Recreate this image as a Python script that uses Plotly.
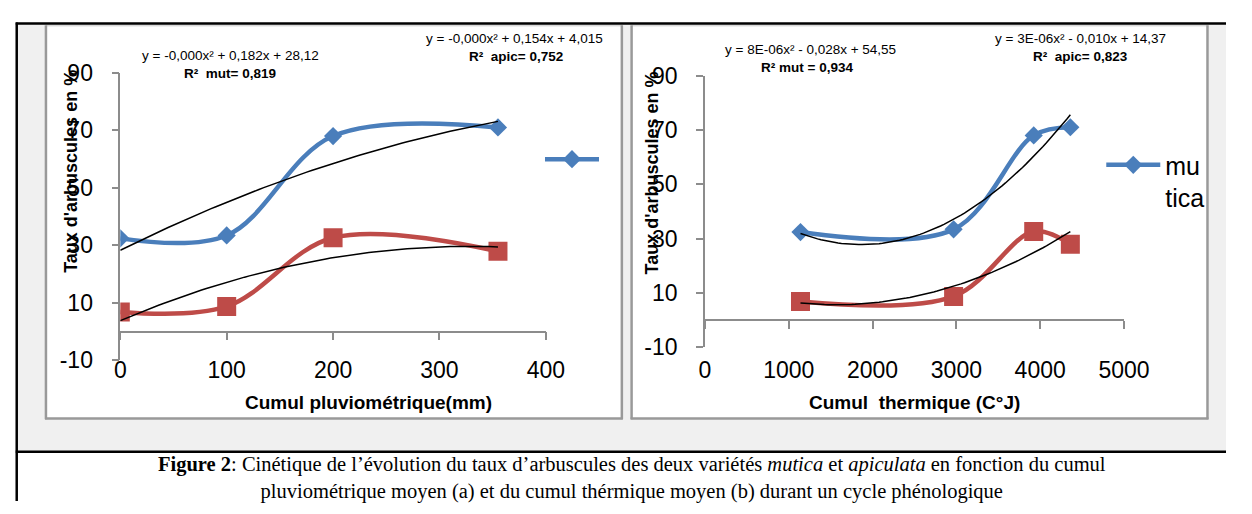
import numpy as np
import plotly.graph_objects as go

W, H = 1252, 514

# ---------------- data ----------------
rain_x = [0, 100, 200, 355]            # cumul pluviométrique (mm)
heat_x = [1140, 2967, 3923, 4360]      # cumul thermique (°C J)
mutica_y = [32.4, 33.4, 68.0, 71.0]    # taux d'arbuscules (%) mutica
apic_y = [6.8, 8.7, 32.6, 27.9]        # taux d'arbuscules (%) apiculata

left_xticks = [0, 100, 200, 300, 400]
right_xticks = [0, 1000, 2000, 3000, 4000, 5000]
y_ticks = [-10, 10, 30, 50, 70, 90]
y_ticktext = ["-10", "10", "30", "50", "70", "90"]

eq_left = ["y = -0,000x² + 0,182x + 28,12", "R²\u00a0\u00a0mut= 0,819",
           "y = -0,000x² + 0,154x + 4,015", "R²\u00a0\u00a0apic= 0,752"]
eq_right = ["y = 8E-06x² - 0,028x + 54,55", "R² mut = 0,934",
            "y = 3E-06x² - 0,010x + 14,37", "R²\u00a0\u00a0apic= 0,823"]

BLUE = "#4a7ebb"
RED = "#be4b48"
GREY = "#8c8c8c"
SANS = "Liberation Sans"


def fx(px):
    return px / W


def fy(py):
    return 1 - py / H


fig = go.Figure()


def add_panel(xs, xaxis, yaxis, zaxis, legend_name, legend_id):
    fig.add_trace(go.Scatter(
        x=xs, y=mutica_y, mode="lines+markers", xaxis=xaxis, yaxis=yaxis,
        line=dict(color=BLUE, width=4.5, shape="spline", smoothing=1),
        marker=dict(symbol="diamond", size=14, color=BLUE),
        name=legend_name, legend=legend_id, showlegend=True))
    fig.add_trace(go.Scatter(
        x=xs, y=apic_y, mode="lines+markers", xaxis=xaxis, yaxis=yaxis,
        line=dict(color=RED, width=4.5, shape="spline", smoothing=1),
        marker=dict(symbol="square", size=19, color=RED),
        showlegend=False))
    for ys in (mutica_y, apic_y):
        c = np.polyfit(xs, ys, 2)
        xx = np.linspace(min(xs), max(xs), 80)
        fig.add_trace(go.Scatter(
            x=xx, y=np.polyval(c, xx), mode="lines", xaxis=xaxis, yaxis=yaxis,
            line=dict(color="black", width=1.5), showlegend=False,
            hoverinfo="skip"))
    # empty trace so that the zero-line axis (x-axis crossing at y=0) is drawn
    fig.add_trace(go.Scatter(x=[None], y=[None], xaxis=zaxis, yaxis=yaxis,
                             showlegend=False, hoverinfo="skip"))


add_panel(rain_x, "x", "y", "x3", "\u00a0", "legend")
add_panel(heat_x, "x2", "y2", "x4", "mu<br>tica", "legend2")

tickfont = dict(family=SANS, size=23, color="black")


def xaxis_cfg(dom, rng, ticks):
    return dict(domain=dom, range=rng, tickvals=ticks, showline=False,
                ticks="", showgrid=False, zeroline=False, tickfont=tickfont,
                ticklabelstandoff=-6, fixedrange=True)


def yaxis_cfg(dom, anchor):
    return dict(domain=dom, range=[-10, 90], tickvals=y_ticks,
                ticktext=y_ticktext,
                showline=True, linecolor=GREY, linewidth=1.5,
                ticks="outside", ticklen=7, tickwidth=1.5, tickcolor=GREY,
                showgrid=False, zeroline=False, tickfont=tickfont,
                ticklabelstandoff=14, anchor=anchor)


def zero_axis(over, dom, rng, ticks, pos):
    return dict(overlaying=over, anchor="free", position=pos, range=rng,
                domain=dom, tickvals=ticks, showticklabels=False,
                showline=True, linecolor=GREY, linewidth=1.5,
                ticks="outside", ticklen=8, tickwidth=1.5, tickcolor=GREY,
                showgrid=False, zeroline=False)


L_dom = [fx(117.3), fx(554)]
R_dom = [fx(717.3), fx(1147.3)]

fig.update_layout(
    width=W, height=H, margin=dict(l=0, r=0, t=0, b=0),
    paper_bgcolor="white", plot_bgcolor="rgba(0,0,0,0)",
    xaxis=xaxis_cfg(L_dom, [0, 400], left_xticks),
    yaxis=yaxis_cfg([fy(365.7), fy(63)], "x"),
    xaxis2=xaxis_cfg(R_dom, [0, 5000], right_xticks),
    yaxis2=yaxis_cfg([fy(352), fy(66)], "x2"),
    xaxis3=zero_axis("x", L_dom, [0, 400], left_xticks, fy(335.5)),
    xaxis4=zero_axis("x2", R_dom, [0, 5000], right_xticks, fy(323.3)),
    legend=dict(x=fx(548), y=fy(130), xanchor="left", yanchor="top",
                itemwidth=54,
                bgcolor="rgba(0,0,0,0)", font=dict(family=SANS, size=25,
                                                   color="black")),
    legend2=dict(x=fx(1124), y=fy(136), xanchor="left", yanchor="top",
                 valign="top", itemwidth=54, bgcolor="rgba(0,0,0,0)",
                 font=dict(family=SANS, size=25, color="black")),
    showlegend=True,
)

# ---------------- frames ----------------
shapes = []


def rect(x0, y0, x1, y1, **kw):
    shapes.append(dict(type="rect", xref="paper", yref="paper",
                       x0=fx(x0), x1=fx(x1), y0=fy(y1), y1=fy(y0),
                       layer="below", **kw))


def line(x0, y0, x1, y1, color, width):
    shapes.append(dict(type="line", xref="paper", yref="paper",
                       x0=fx(x0), x1=fx(x1), y0=fy(y0), y1=fy(y1),
                       line=dict(color=color, width=width), layer="below"))


rect(11, 11, 1252, 462, fillcolor="#f0f0f0", line=dict(width=0))
for bx0, bx1 in ((40, 633), (641, 1234)):
    rect(bx0, 13, bx1, 428, fillcolor="white", line=dict(width=0))
    line(bx0 + 1, 13.5, bx1, 13.5, "#c8c8c8", 1)
    line(bx0 + 1, 13, bx0 + 1, 428, "#999999", 2.5)
    line(bx1 - 1, 13, bx1 - 1, 428, "#999999", 2.5)
    line(bx0, 427, bx1, 427, "#999999", 2.5)
line(10, 11, 1252, 11, "black", 2.5)
line(11, 10, 11, 514, "black", 2.5)
line(10, 462, 1252, 462, "black", 2.5)
fig.update_layout(shapes=shapes)

# ---------------- texts ----------------
ann = []


def text(x, y, s, size, bold=False, angle=0, family=SANS, xanchor="center"):
    ann.append(dict(xref="paper", yref="paper", x=fx(x), y=fy(y), text=s,
                    showarrow=False, xanchor=xanchor, yanchor="middle",
                    textangle=angle,
                    font=dict(family=family, size=size, color="black",
                              weight="bold" if bold else "normal")))


text(230, 45, eq_left[0], 13.5)
text(230, 64, eq_left[1], 13.5, bold=True)
text(522, 27, eq_left[2], 13.5)
text(523, 46, eq_left[3], 13.5, bold=True)
text(826, 38, eq_right[0], 13.5)
text(822, 57, eq_right[1], 13.5, bold=True)
text(1103, 27, eq_right[2], 13.5)
text(1103, 46, eq_right[3], 13.5, bold=True)

text(66, 167, "Taux d'arbuscules en %", 18, bold=True, angle=-90)
text(663, 169, "Taux d'arbuscules en %", 18, bold=True, angle=-90)
text(372, 410, "Cumul pluviométrique(mm)", 19, bold=True)
text(932, 410, "Cumul\u00a0\u00a0thermique (C°J)", 19, bold=True)

text(642, 489.5,
     "<b>Figure 2</b>: Cinétique de l’évolution du taux d’arbuscules "
     "des deux variétés <i>mutica</i> et <i>apiculata</i> en fonction du cumul"
     "<br>pluviométrique moyen (a) et du cumul thérmique moyen (b) durant "
     "un cycle phénologique", 20.5, family="Liberation Serif")
fig.update_layout(annotations=ann)

fig.write_html("out.html")
